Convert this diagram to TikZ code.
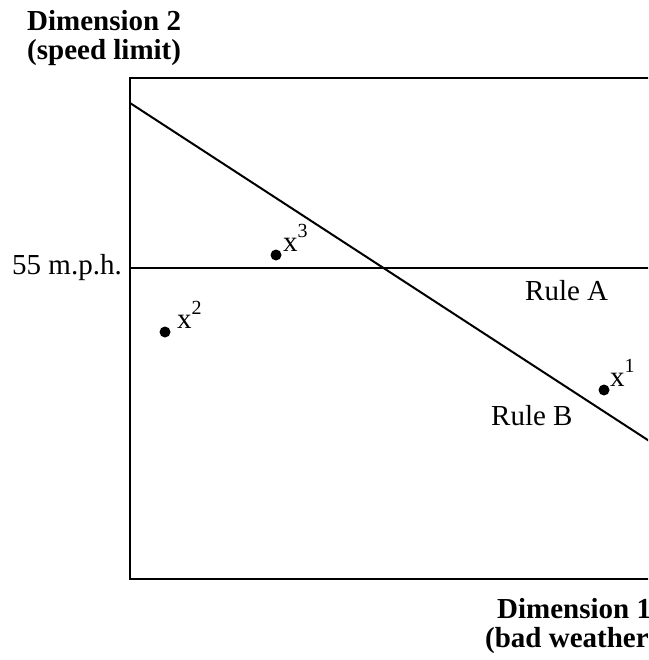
\documentclass[tikz,border=0pt]{standalone}
\usepackage{fontspec}
\setmainfont{Liberation Serif}
\usetikzlibrary{positioning, calc}

\newcommand{\supx}[1]{x\raisebox{0.45em}{\fontsize{20}{20}\selectfont #1}}

\begin{document}
\begin{tikzpicture}[x=1pt, y=-1pt, font=\fontsize{29}{32}\selectfont,
    dot/.style={circle, fill, inner sep=0pt, minimum size=11pt},
    lbl/.style={inner sep=0pt, anchor=base west},
    axislbl/.style={inner sep=0pt, anchor=base west, font=\fontsize{29}{32}\selectfont\bfseries}]
        \useasboundingbox (0, 0) rectangle (648, 660);
        \clip (0, 0) rectangle (648, 660);
        % Axis titles
        \node[axislbl] (dimtwo) at (27, 31) {Dimension 2};
        \node[axislbl] (dimtwob) at (27, 60) {(speed limit)};
        \node[axislbl] (dimone) at (497, 618) {Dimension 1};
        \node[axislbl] (dimoneb) at (485, 647) {(bad weather)};
        % Box
        \draw[line width=2.2pt] (130, 78) rectangle (700, 579);
        % Rule A
        \coordinate (ruleAl) at (130, 268);
        \coordinate (ruleAr) at (700, 268);
        \draw[line width=2pt] (ruleAl) -- (ruleAr);
        \node[lbl, left=8pt of ruleAl, anchor=east] (speed) {55 m.p.h.};
        \node[lbl] (ruleA) at (525, 300) {Rule A};
        % Rule B
        \coordinate (ruleBl) at (130, 103);
        \coordinate (ruleBr) at (700, 474);
        \draw[line width=2pt] (ruleBl) -- (ruleBr);
        \node[lbl] (ruleB) at (491, 425) {Rule B};
        % Cases
        \node[dot] (xone) at (604, 390) {};
        \node[lbl] (xonel) at (610, 386) {\supx{1}};
        \node[dot] (xtwo) at (165, 332) {};
        \node[lbl] (xtwol) at (177, 328) {\supx{2}};
        \node[dot] (xthree) at (276, 255) {};
        \node[lbl] (xthreel) at (283, 251) {\supx{3}};
    \end{tikzpicture}
\end{document}
